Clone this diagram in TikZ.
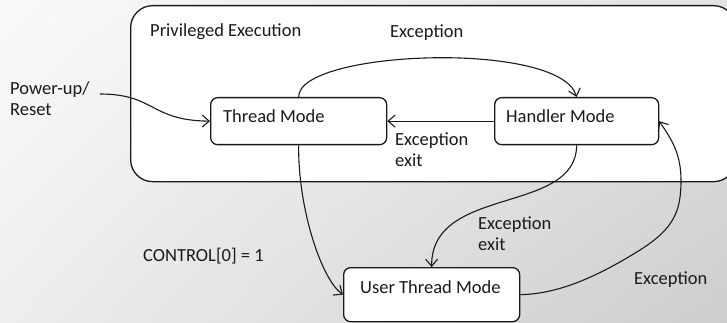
\documentclass[tikz,border=0pt]{standalone}
\usepackage{fontspec}
\setmainfont{Carlito}
\usetikzlibrary{arrows.meta,shadings}
\definecolor{bgUL}{HTML}{FAFAFA}
\definecolor{bgUR}{HTML}{E2E2E2}
\definecolor{bgLL}{HTML}{EEEEEE}
\definecolor{bgLR}{HTML}{CDCDCD}
\definecolor{ink}{HTML}{1A1A1A}
\begin{document}
\begin{tikzpicture}[x=1pt,y=-1pt,
  region/.style={draw=ink, fill=white, rounded corners=22pt, line width=1.3pt, inner sep=0pt, anchor=north west},
  state/.style={draw=ink, fill=white, rounded corners=7pt, line width=1.3pt, inner sep=0pt, anchor=north west},
  lbl/.style={anchor=base west, inner sep=0pt, text=ink, font=\fontsize{18.5}{21}\selectfont},
  conn/.style={draw=ink, line width=1.1pt, -{Straight Barb[length=7pt,width=12pt,line width=1.1pt]}}]
\useasboundingbox (0,0) rectangle (727,323);
\clip (0,0) rectangle (727,323);
\shade[upper left=bgUL, upper right=bgUR, lower left=bgLL, lower right=bgLR] (0,0) rectangle (727,323);

% privileged region
\node[region, minimum width=605pt, minimum height=176pt] (priv) at (130,5) {};
\node[lbl] (privlbl) at (150,37) {Privileged Execution};

% states
\node[state, minimum width=176pt, minimum height=47pt] (tm) at (210,97) {};
\node[state, minimum width=164pt, minimum height=47pt] (hm) at (494,97) {};
\node[state, minimum width=176pt, minimum height=54pt] (ut) at (343,267) {};
\node[lbl] (tmlbl) at (223,123) {Thread Mode};
\node[lbl] (hmlbl) at (506,123) {Handler Mode};
\node[lbl] (utlbl) at (360,293) {User Thread Mode};

% connectors
\coordinate (pu) at (100,94);
\draw[conn] (pu) .. controls (155,94) and (150,120.5) .. (tm.west);
\draw[conn] (tm.north) .. controls (298,50) and (560,40) .. (hm.north);
\draw[conn] (hm.west) -- (tm.east);
\draw[conn] (tm.south) .. controls (298,210) and (322,280) .. (ut.west);
\draw[conn] (hm.south) .. controls (576,215) and (431,185) .. (ut.north);
\draw[conn] (ut.east) .. controls (560,294) and (600,275) .. (640,250)
  .. controls (675,228) and (681,210) .. (681,180)
  .. controls (681,150) and (668,135) .. (hm.east);

% labels
\node[lbl] (pwr1) at (10,95) {Power-up/};
\node[lbl] (pwr2) at (10,116) {Reset};
\node[lbl] (exc1) at (390,38) {Exception};
\node[lbl] (exx1) at (395,146) {Exception};
\node[lbl] (exx2) at (395,167) {exit};
\node[lbl] (exx3) at (478,229) {Exception};
\node[lbl] (exx4) at (478,250) {exit};
\node[lbl] (exc2) at (634,284) {Exception};
\node[lbl] (ctrl) at (143,261) {CONTROL[0] = 1};
\end{tikzpicture}
\end{document}
